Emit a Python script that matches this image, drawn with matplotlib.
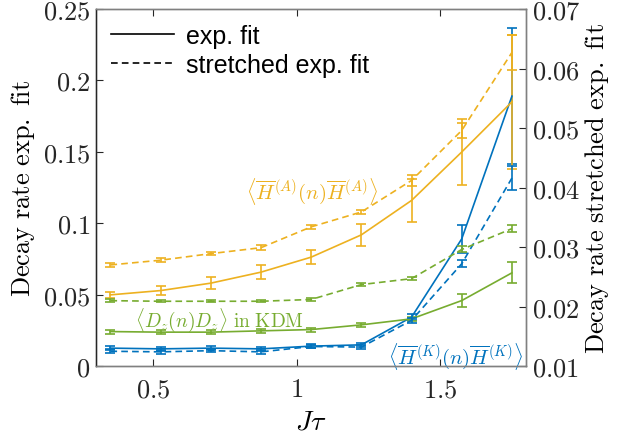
import numpy as np
import matplotlib
matplotlib.use("Agg")
import matplotlib.pyplot as plt

plt.rcParams['mathtext.fontset'] = 'cm'
plt.rcParams['font.family'] = ['Liberation Sans', 'DejaVu Sans']

# data
J_tau = [0.35, 0.525, 0.7, 0.875, 1.05, 1.225, 1.4, 1.575, 1.75]

# exp. fit -> left axis
HA_exp = [0.0499, 0.0529, 0.0581, 0.0658, 0.0763, 0.0919, 0.116, 0.1499, 0.185]
HA_exp_err = [0.002, 0.003, 0.004, 0.005, 0.005, 0.0075, 0.015, 0.023, 0.047]
Dz_exp = [0.0242, 0.0238, 0.0238, 0.0247, 0.0256, 0.0289, 0.0331, 0.0459, 0.0653]
Dz_exp_err = [0.0014, 0.0014, 0.0014, 0.0014, 0.0014, 0.0014, 0.0014, 0.0047, 0.0074]
HK_exp = [0.0126, 0.0121, 0.0126, 0.0121, 0.014, 0.0149, 0.0343, 0.0891, 0.189]
HK_exp_err = [0.0015, 0.0015, 0.0015, 0.0015, 0.0012, 0.0012, 0.002, 0.01, 0.0476]

# stretched exp. fit -> right axis
HA_str = [0.0270, 0.0278, 0.0289, 0.0299, 0.0334, 0.0359, 0.0412, 0.0496, 0.0627]
HA_str_err = [0.0003, 0.0003, 0.0003, 0.0004, 0.0003, 0.0003, 0.0009, 0.0013, 0.003]
Dz_str = [0.0210, 0.0209, 0.0209, 0.0209, 0.0212, 0.0237, 0.0247, 0.0296, 0.0331]
Dz_str_err = [0.0002, 0.0002, 0.0002, 0.0002, 0.0002, 0.0002, 0.0003, 0.0005, 0.0006]
HK_str = [0.0125, 0.0124, 0.0126, 0.0124, 0.0133, 0.0132, 0.0177, 0.0272, 0.0416]
HK_str_err = [0.0003, 0.0003, 0.0003, 0.0003, 0.0003, 0.0003, 0.0004, 0.00055, 0.002]

c_blue = '#0072BD'
c_orange = '#EDB120'
c_green = '#77AC30'
ax_col = '#262626'

fig = plt.figure(figsize=(6.28, 4.35), dpi=100)
ax = fig.add_axes([0.153, 0.156, 0.685, 0.821])
ax2 = ax.twinx()

eb = dict(capsize=3.6, elinewidth=1.2, lw=1.2, capthick=1.2)
ax.errorbar(J_tau, HK_exp, yerr=HK_exp_err, color=c_blue, **eb)
ax.errorbar(J_tau, Dz_exp, yerr=Dz_exp_err, color=c_green, **eb)
ax.errorbar(J_tau, HA_exp, yerr=HA_exp_err, color=c_orange, **eb)

for y, e, c in [(HK_str, HK_str_err, c_blue), (Dz_str, Dz_str_err, c_green),
                (HA_str, HA_str_err, c_orange)]:
    l = ax2.errorbar(J_tau, y, yerr=e, color=c, **eb)
    l[0].set_dashes((4, 2.5))

ax.set_xlim(0.3, 1.8)
ax.set_ylim(0, 0.25)
ax2.set_ylim(0.01, 0.07)

ax.set_xticks([0.5, 1, 1.5])
ax.set_xticklabels(['$0.5$', '$1$', '$1.5$'])
ax.set_yticks([0, 0.05, 0.1, 0.15, 0.2, 0.25])
ax.set_yticklabels(['$0$', '$0.05$', '$0.1$', '$0.15$', '$0.2$', '$0.25$'])
ax2.set_yticks([0.01, 0.02, 0.03, 0.04, 0.05, 0.06, 0.07])
ax2.set_yticklabels(['$0.01$', '$0.02$', '$0.03$', '$0.04$', '$0.05$', '$0.06$', '$0.07$'])

ax.tick_params(axis='x', direction='in', top=True, labelsize=19, colors=ax_col,
               length=5, pad=8)
ax.tick_params(axis='y', direction='in', left=True, right=False, labelsize=19,
               colors=ax_col, length=5, pad=4)
ax2.tick_params(axis='y', direction='in', labelsize=19, colors=ax_col, length=5, pad=4)
for a in (ax, ax2):
    for s in a.spines.values():
        s.set_color('#808080')
        s.set_linewidth(1.0)
ax2.spines['left'].set_color(ax_col)

ax.set_xlabel(r'$J\tau$', fontsize=20, labelpad=5)
ax.set_ylabel(r'$\mathrm{Decay\ rate\ exp.\ fit}$', fontsize=19, labelpad=4)
ax2.set_ylabel(r'$\mathrm{Decay\ rate\ stretched\ exp.\ fit}$', fontsize=19, labelpad=2)

# annotations
ax.text(1.053, 0.1228, r'$\langle\overline{H}^{(A)}(n)\overline{H}^{(A)}\rangle$',
        color=c_orange, fontsize=15, ha='center', va='center')
ax.text(0.73, 0.0331, r'$\langle D_z(n) D_z\rangle\ \mathrm{in\ KDM}$',
        color=c_green, fontsize=14, ha='center', va='center')
ax.text(1.552, 0.0072, r'$\langle\overline{H}^{(K)}(n)\overline{H}^{(K)}\rangle$',
        color=c_blue, fontsize=15, ha='center', va='center')

# legend
h1, = ax.plot([], [], color='k', lw=1.2)
h2, = ax.plot([], [], color='k', lw=1.2, dashes=(4, 2.5))
ax.legend([h1, h2], ['exp. fit', 'stretched exp. fit'], loc='upper left',
          frameon=False, fontsize=18, handlelength=2.5, handletextpad=0.5,
          borderaxespad=0.2, labelspacing=0.2)

fig.savefig('out.png', dpi=100)
